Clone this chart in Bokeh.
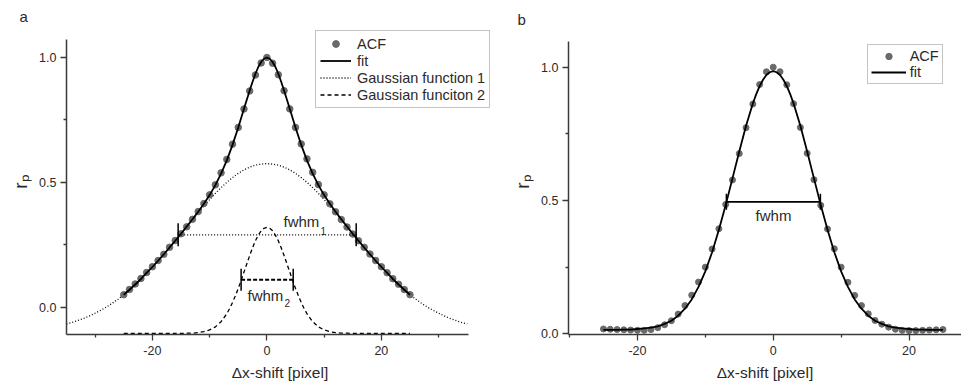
from bokeh.plotting import figure
from bokeh.layouts import row
from bokeh.models import (FixedTicker, PrintfTickFormatter, Legend, LegendItem,
                          Label, Range1d, Title)
from bokeh.embed import file_html
from bokeh.resources import INLINE

# ---------------- data: panel a ----------------
a_acf_x = list(range(-25, 26))
a_acf_y = [0.050, 0.071, 0.093, 0.115, 0.139, 0.162, 0.187, 0.212, 0.240, 0.267,
           0.294, 0.322, 0.352, 0.383, 0.415, 0.450, 0.490, 0.538, 0.592, 0.653,
           0.720, 0.794, 0.866, 0.930, 0.978, 1.000, 0.977, 0.931, 0.867, 0.794,
           0.720, 0.654, 0.594, 0.540, 0.491, 0.450, 0.414, 0.382, 0.351, 0.321,
           0.293, 0.266, 0.240, 0.213, 0.187, 0.162, 0.138, 0.114, 0.092, 0.071,
           0.050]

a_fit_x = [-25, -24, -23, -22, -21, -20, -19, -18, -17, -16, -15, -14, -13, -12,
           -11, -10, -9, -8, -7, -6, -5, -4, -3, -2.5, -2, -1.5, -1, -0.5, 0, 0.5,
           1, 1.5, 2, 2.5, 3, 4, 5, 6, 7, 8, 9, 10, 11, 12, 13, 14, 15, 16, 17, 18,
           19, 20, 21, 22, 23, 24, 25]
a_fit_y = [0.050, 0.070, 0.091, 0.113, 0.137, 0.161, 0.186, 0.212, 0.239, 0.266,
           0.294, 0.323, 0.352, 0.382, 0.414, 0.449, 0.489, 0.535, 0.588, 0.650,
           0.720, 0.795, 0.868, 0.903, 0.935, 0.962, 0.982, 0.995, 1.000, 0.995,
           0.982, 0.962, 0.935, 0.903, 0.868, 0.795, 0.720, 0.650, 0.588, 0.535,
           0.489, 0.449, 0.414, 0.382, 0.352, 0.323, 0.294, 0.266, 0.239, 0.212,
           0.186, 0.161, 0.137, 0.113, 0.091, 0.070, 0.050]

a_g1_x = list(range(-35, 36))
a_g1_y = [-0.067, -0.061, -0.053, -0.045, -0.035, -0.024, -0.012, 0.001, 0.016, 0.032,
          0.050, 0.070, 0.091, 0.113, 0.137, 0.161, 0.186, 0.212, 0.239, 0.266,
          0.294, 0.322, 0.350, 0.378, 0.405, 0.431, 0.456, 0.479, 0.500, 0.519,
          0.536, 0.550, 0.561, 0.569, 0.573, 0.575, 0.573, 0.569, 0.561, 0.550,
          0.536, 0.519, 0.500, 0.479, 0.456, 0.431, 0.405, 0.378, 0.350, 0.322,
          0.294, 0.266, 0.239, 0.212, 0.186, 0.161, 0.137, 0.113, 0.091, 0.070,
          0.050, 0.032, 0.016, 0.001, -0.012, -0.024, -0.035, -0.045, -0.053, -0.061,
          -0.067]

a_g2_x = [-25, -24, -23, -22, -21, -20, -19, -18, -17, -16, -15, -14, -13, -12, -11,
          -10, -9, -8, -7, -6.5, -6, -5.5, -5, -4.5, -4, -3.5, -3, -2.5, -2, -1.5,
          -1, -0.5, 0, 0.5, 1, 1.5, 2, 2.5, 3, 3.5, 4, 4.5, 5, 5.5, 6, 6.5, 7, 8, 9,
          10, 11, 12, 13, 14, 15, 16, 17, 18, 19, 20, 21, 22, 23, 24, 25]
a_g2_y = [-0.105, -0.105, -0.105, -0.105, -0.105, -0.105, -0.105, -0.105, -0.105,
          -0.105, -0.105, -0.104, -0.104, -0.102, -0.098, -0.091, -0.079, -0.058,
          -0.026, -0.005, 0.019, 0.046, 0.075, 0.107, 0.141, 0.174, 0.207, 0.238,
          0.266, 0.288, 0.306, 0.316, 0.320, 0.316, 0.306, 0.288, 0.266, 0.238,
          0.207, 0.174, 0.141, 0.107, 0.075, 0.046, 0.019, -0.005, -0.026,
          -0.058, -0.079, -0.091, -0.098, -0.102, -0.104, -0.104, -0.105, -0.105,
          -0.105, -0.105, -0.105, -0.105, -0.105, -0.105, -0.105, -0.105, -0.105]

a_fwhm1_ends = [-15.5, 15.6]
a_fwhm1_level = 0.29
a_fwhm2_ends = [-4.5, 4.6]
a_fwhm2_level = 0.11

# ---------------- data: panel b ----------------
b_acf_x = list(range(-25, 26))
b_acf_y = [0.018, 0.017, 0.016, 0.015, 0.014, 0.013, 0.013, 0.016, 0.023, 0.034,
           0.049, 0.074, 0.106, 0.145, 0.194, 0.250, 0.318, 0.394, 0.485, 0.577,
           0.676, 0.773, 0.862, 0.935, 0.983, 1.000, 0.983, 0.934, 0.863, 0.774,
           0.677, 0.578, 0.482, 0.393, 0.319, 0.250, 0.193, 0.144, 0.106, 0.075,
           0.050, 0.036, 0.025, 0.017, 0.013, 0.012, 0.012, 0.013, 0.014, 0.015,
           0.016]

b_fit_x = [-25, -24, -23, -22, -21, -20, -19, -18, -17, -16, -15, -14, -13, -12,
           -11, -10, -9, -8, -7, -6, -5, -4, -3, -2.5, -2, -1.5, -1, -0.5, 0, 0.5,
           1, 1.5, 2, 2.5, 3, 4, 5, 6, 7, 8, 9, 10, 11, 12, 13, 14, 15, 16, 17, 18,
           19, 20, 21, 22, 23, 24, 25]
b_fit_y = [0.015, 0.015, 0.015, 0.016, 0.016, 0.018, 0.020, 0.023, 0.028, 0.037,
           0.049, 0.068, 0.094, 0.129, 0.176, 0.234, 0.306, 0.390, 0.483, 0.583,
           0.684, 0.780, 0.864, 0.899, 0.929, 0.953, 0.971, 0.981, 0.985, 0.981,
           0.971, 0.953, 0.929, 0.899, 0.864, 0.780, 0.684, 0.583, 0.483, 0.390,
           0.306, 0.234, 0.176, 0.129, 0.094, 0.068, 0.049, 0.037, 0.028, 0.023,
           0.020, 0.018, 0.016, 0.016, 0.015, 0.015, 0.015]

b_fwhm_ends = [-6.9, 6.95]
b_fwhm_level = 0.495

# ---------------- ticks / labels ----------------
x_ticks = [-20, 0, 20]
a_x_minor = [-30, -10, 10, 30]
b_x_minor = [-30, -10, 10]
y_ticks = [0.0, 0.5, 1.0]
y_minor = [0.25, 0.75]
a_legend_labels = ["ACF", "fit", "Gaussian function 1", "Gaussian funciton 2"]
b_legend_labels = ["ACF", "fit"]
x_label = "\u0394x-shift [pixel]"
y_label = "r\u209a"

FONT = "Liberation Sans"
TXT = "#2a2a2a"
AX = "#3a3a3a"
DOT = "#6a6a6a"
H = 387
TOP = 28       # common top border (row aligns frames)
BOT = 334      # common frame bottom


def style(p, minor_x):
    p.xaxis.ticker = FixedTicker(ticks=x_ticks, minor_ticks=minor_x)
    p.yaxis.ticker = FixedTicker(ticks=y_ticks, minor_ticks=y_minor)
    p.yaxis.formatter = PrintfTickFormatter(format="%.1f")
    p.xaxis.formatter = PrintfTickFormatter(format="%d")
    for ax in (p.xaxis, p.yaxis):
        ax.axis_line_color = AX
        ax.axis_line_width = 1.5
        ax.major_tick_line_color = AX
        ax.minor_tick_line_color = AX
        ax.major_tick_line_width = 1.3
        ax.minor_tick_line_width = 1.3
        ax.major_tick_out = 6
        ax.major_tick_in = 0
        ax.minor_tick_out = 3
        ax.minor_tick_in = 0
        ax.major_label_text_font = FONT
        ax.major_label_text_font_size = "12.5px"
        ax.major_label_text_color = TXT
        ax.axis_label_text_font = FONT
        ax.axis_label_text_font_style = "normal"
        ax.axis_label_text_color = TXT
    p.xaxis.major_label_standoff = 5
    p.yaxis.major_label_standoff = 4
    p.xaxis.axis_label = x_label
    p.xaxis.axis_label_text_font_size = "15.5px"
    p.xaxis.axis_label_standoff = 6
    p.yaxis.axis_label = y_label
    p.yaxis.axis_label_text_font_size = "19px"
    p.yaxis.axis_label_standoff = 5
    p.xgrid.visible = False
    p.ygrid.visible = False
    p.outline_line_color = None
    p.background_fill_color = "white"
    p.border_fill_color = "white"


def txt(p, x, y, s, size, align="center"):
    p.add_layout(Label(x=x, y=y, text=s, text_font=FONT, text_font_size=size,
                       text_color=TXT, text_align=align, text_baseline="middle"))


def panel_title(s, offset, standoff):
    return Title(text=s, align="left", offset=offset, standoff=standoff,
                 text_font=FONT, text_font_size="15px", text_font_style="normal",
                 text_color=TXT)


# ================= panel a =================
WA = 505
A_L, A_R = 66, 493
A_SX, A_X0 = 5.725, -35.0
A_SY = 249.7
A_Y0 = -(BOT - 306.7) / A_SY
pa = figure(width=WA, height=H, output_backend="svg", toolbar_location=None,
            x_range=Range1d(A_X0, A_X0 + (A_R - A_L) / A_SX),
            y_range=Range1d(A_Y0, A_Y0 + (BOT - TOP) / A_SY),
            min_border_left=A_L, min_border_right=WA - A_R, min_border_top=TOP,
            min_border_bottom=H - BOT,
            title=panel_title("a", -47, 8))
style(pa, a_x_minor)
pa.xaxis.bounds = (-35, 35.2)
pa.yaxis.bounds = (A_Y0, 1.072)

r_g1 = pa.line(a_g1_x, a_g1_y, line_color="black", line_width=1.3, line_dash="1 2")
r_g2 = pa.line(a_g2_x, a_g2_y, line_color="black", line_width=1.3, line_dash="4 3")
r_acf_a = pa.scatter(a_acf_x, a_acf_y, size=6.5, fill_color=DOT, line_color=DOT)
r_fit_a = pa.line(a_fit_x, a_fit_y, line_color="black", line_width=1.8)

# fwhm markers
pa.line(a_fwhm1_ends, [a_fwhm1_level, a_fwhm1_level], line_color="black",
        line_width=1.3, line_dash="1 2")
pa.segment(x0=a_fwhm1_ends, x1=a_fwhm1_ends,
           y0=[a_fwhm1_level - 0.046] * 2, y1=[a_fwhm1_level + 0.046] * 2,
           line_color="black", line_width=1.5)
pa.line(a_fwhm2_ends, [a_fwhm2_level, a_fwhm2_level], line_color="black",
        line_width=1.8, line_dash="4 2")
pa.segment(x0=a_fwhm2_ends, x1=a_fwhm2_ends,
           y0=[a_fwhm2_level - 0.044] * 2, y1=[a_fwhm2_level + 0.044] * 2,
           line_color="black", line_width=1.5)


def pa_xy(px, py):
    return A_X0 + (px - A_L) / A_SX, A_Y0 + (BOT - py) / A_SY


x, y = pa_xy(283, 221); txt(pa, x, y, "fwhm", "15px", align="left")
x, y = pa_xy(320, 230); txt(pa, x, y, "1", "10px", align="left")
x, y = pa_xy(247, 295); txt(pa, x, y, "fwhm", "15px", align="left")
x, y = pa_xy(284, 302); txt(pa, x, y, "2", "10px", align="left")

leg_a = Legend(items=[LegendItem(label=a_legend_labels[0], renderers=[r_acf_a]),
                      LegendItem(label=a_legend_labels[1], renderers=[r_fit_a]),
                      LegendItem(label=a_legend_labels[2], renderers=[r_g1]),
                      LegendItem(label=a_legend_labels[3], renderers=[r_g2])],
               location=(315 - A_L, BOT - 108), margin=0, padding=4, spacing=0,
               glyph_width=31, glyph_height=17, label_height=17, label_standoff=6,
               label_text_font=FONT, label_text_font_size="14.5px",
               label_text_color=TXT, border_line_color="#888888",
               border_line_width=1, background_fill_color="white",
               background_fill_alpha=1.0)
pa.add_layout(leg_a)

# ================= panel b =================
WB = 961 - WA
B_L = 63
B_SX, B_X0 = 6.79, -30.15
B_SY = 266.6
B_Y0 = -(BOT - 333.3) / B_SY
pb = figure(width=WB, height=H, output_backend="svg", toolbar_location=None,
            x_range=Range1d(B_X0, B_X0 + (WB - B_L) / B_SX),
            y_range=Range1d(B_Y0, B_Y0 + (BOT - TOP) / B_SY),
            min_border_left=B_L, min_border_right=0, min_border_top=TOP,
            min_border_bottom=H - BOT,
            title=panel_title("b", -51, 1))
style(pb, b_x_minor)
pb.yaxis.bounds = (B_Y0, 1.097)

r_acf_b = pb.scatter(b_acf_x, b_acf_y, size=6, fill_color=DOT, line_color=DOT)
r_fit_b = pb.line(b_fit_x, b_fit_y, line_color="black", line_width=1.8)
pb.line(b_fwhm_ends, [b_fwhm_level, b_fwhm_level], line_color="black", line_width=1.8)
pb.segment(x0=b_fwhm_ends, x1=b_fwhm_ends,
           y0=[b_fwhm_level - 0.03] * 2, y1=[b_fwhm_level + 0.03] * 2,
           line_color="black", line_width=1.5)


def pb_xy(px, py):
    return B_X0 + (px - (WA + B_L)) / B_SX, B_Y0 + (BOT - py) / B_SY


x, y = pb_xy(773, 215); txt(pb, x, y, "fwhm", "15px")

leg_b = Legend(items=[LegendItem(label=b_legend_labels[0], renderers=[r_acf_b]),
                      LegendItem(label=b_legend_labels[1], renderers=[r_fit_b])],
               location=(866.7 - (WA + B_L), BOT - 84), margin=0, padding=3,
               spacing=0, glyph_width=35, glyph_height=16, label_height=16,
               label_standoff=4, label_text_font=FONT, label_text_font_size="14.5px",
               label_text_color=TXT, border_line_color="#888888",
               border_line_width=1, background_fill_color="white",
               background_fill_alpha=1.0)
pb.add_layout(leg_b)

layout = row(pa, pb)
open("out.html", "w").write(file_html(layout, INLINE))
